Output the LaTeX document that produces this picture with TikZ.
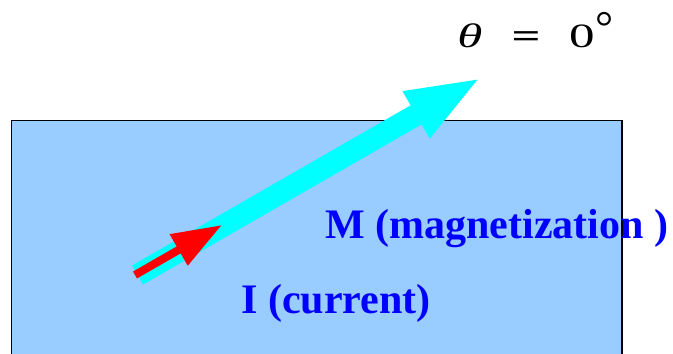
\documentclass[tikz,border=0pt]{standalone}
\usepackage{fontspec}
\setmainfont{Liberation Serif}
\usetikzlibrary{arrows.meta}
\definecolor{slabblue}{HTML}{99CCFF}
\definecolor{magcyan}{RGB}{0,255,255}

\begin{document}
\begin{tikzpicture}[x=0.75pt,y=-0.75pt]
\tikzset{
  slab/.style={draw=black, line width=0.8pt, fill=slabblue},
  magarrow/.style={draw=magcyan, line width=16.5pt, -{Triangle[width=36pt,length=57pt]}},
  curarrow/.style={draw=red, line width=6pt, -{Triangle[width=25.5pt,length=37.5pt]}},
  lbl/.style={anchor=base west, inner sep=0pt, text=blue, font=\bfseries\fontsize{31.5}{36}\selectfont},
  anglelbl/.style={anchor=base west, inner sep=0pt, font=\fontsize{25.5}{30}\selectfont}
}
\useasboundingbox (0,0) rectangle (673,353);
\clip (0,0) rectangle (673,353);
% sample
\path[slab] (11.5,120.5) rectangle (622,370);
% arrows
\coordinate (mtail) at (137.5,275);
\coordinate (mtip) at (482,77);
\coordinate (itail) at (135,275);
\coordinate (itip) at (222,225);
\draw[magarrow] (mtail) -- (mtip);
\draw[curarrow] (itail) -- (itip);
% labels
\node[lbl] (mlbl) at (325,238) {M (magnetization )};
\node[lbl] (ilbl) at (241,313) {I (current)};
\node[anglelbl] (theta) at (457,48)
  {\rlap{\scalebox{1.5}[1]{\textit{θ}}}\hspace{40.7pt}%
   \rlap{\scalebox{1.5}[1]{\textbf{=}}}\hspace{43.2pt}%
   \rlap{\scalebox{1.5}[1]{0}}\hspace{19.9pt}%
   \raisebox{4pt}{\fontsize{34}{40}\selectfont °}};
\end{tikzpicture}
\end{document}
